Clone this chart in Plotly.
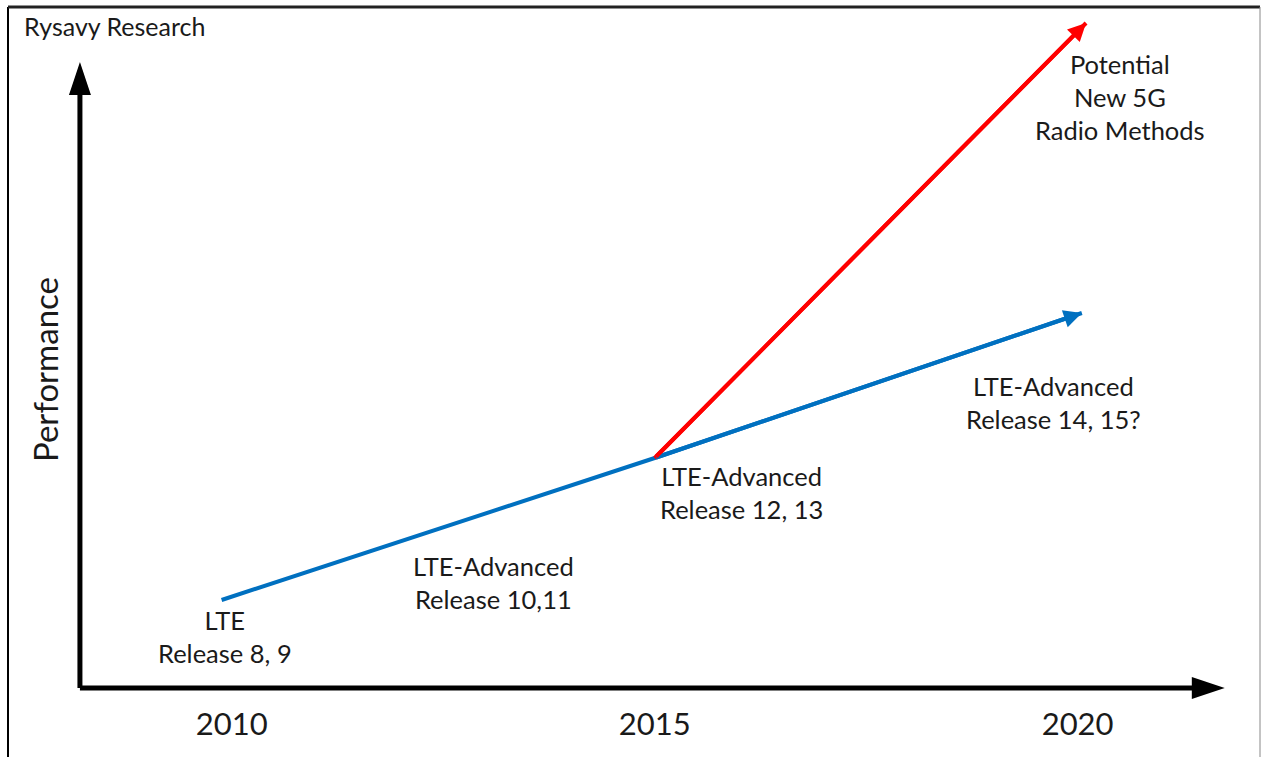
import plotly.graph_objects as go

# LTE evolution path (year, relative performance)
lte_years = [2009.88, 2015.0, 2020.05]
lte_perf = [8.8, 23.0, 37.5]

# potential 5G branch
g5_years = [2015.0, 2020.1]
g5_perf = [23.0, 66.5]

tick_years = [2010, 2015, 2020]
tick_text = ["2010", "2015", "2020"]

labels = [
    "LTE<br>Release 8, 9",
    "LTE-Advanced<br>Release 10,11",
    "LTE-Advanced<br>Release 12, 13",
    "LTE-Advanced<br>Release 14, 15?",
    "Potential<br>New 5G<br>Radio Methods",
]
label_x = [2009.92, 2013.09, 2016.03, 2019.71, 2020.50]
label_y = [5.2, 10.6, 19.6, 28.6, 59.1]

XR = [2007.26, 2022.18]
YR = [-6.9, 68.8]
FONT = "Lato, Calibri, sans-serif"
TXT = "#1a1a1a"
BLUE = "#0070C0"
RED = "#FF0000"

fig = go.Figure()

fig.add_trace(go.Scatter(x=lte_years, y=lte_perf, mode="lines",
                         line=dict(color=BLUE, width=4), hoverinfo="skip"))
fig.add_trace(go.Scatter(x=g5_years, y=g5_perf, mode="lines",
                         line=dict(color=RED, width=4), hoverinfo="skip"))

# arrow heads on the end of each series
for xs, ys, col in [(lte_years, lte_perf, BLUE), (g5_years, g5_perf, RED)]:
    fig.add_annotation(x=xs[-1], y=ys[-1], ax=xs[-2], ay=ys[-2],
                       xref="x", yref="y", axref="x", ayref="y",
                       showarrow=True, arrowhead=2, arrowsize=0.9,
                       arrowwidth=4, arrowcolor=col, text="")

for t, x, y in zip(labels, label_x, label_y):
    fig.add_annotation(x=x, y=y, text=t, showarrow=False,
                       font=dict(family=FONT, size=25.5, color=TXT),
                       xanchor="center", yanchor="middle")

# axis arrows
ax_x0 = 2008.205
y_top = 62.6
x_right = 2021.74
fig.add_shape(type="line", x0=ax_x0, x1=ax_x0, y0=0, y1=y_top - 2.5,
              line=dict(color="black", width=5))
fig.add_shape(type="line", x0=ax_x0, x1=x_right - 0.3, y0=0, y1=0,
              line=dict(color="black", width=5))
hw = 11 / 84.6
fig.add_shape(type="path", fillcolor="black", line=dict(width=0),
              path=f"M{ax_x0 - hw},{y_top - 3.3} L{ax_x0},{y_top} L{ax_x0 + hw},{y_top - 3.3} Z")
fig.add_shape(type="path", fillcolor="black", line=dict(width=0),
              path=f"M{x_right - 33 / 84.6},{1.1} L{x_right},0 L{x_right - 33 / 84.6},{-1.1} Z")

# frame
fig.add_shape(type="line", xref="paper", yref="paper", x0=8 / 1262, x1=8 / 1262,
              y0=0, y1=1 - 7 / 757, line=dict(color="black", width=2))
fig.add_shape(type="line", xref="paper", yref="paper", x0=8 / 1262, x1=1260 / 1262,
              y0=1 - 7 / 757, y1=1 - 7 / 757, line=dict(color="#222", width=3))
fig.add_shape(type="line", xref="paper", yref="paper", x0=1260 / 1262, x1=1260 / 1262,
              y0=0, y1=1 - 7 / 757, line=dict(color="#888", width=1))

fig.add_annotation(xref="paper", yref="paper", x=22 / 1262, y=1 - 26 / 757,
                   text="Rysavy Research", showarrow=False, xanchor="left", yanchor="middle",
                   font=dict(family=FONT, size=25, color=TXT))
fig.add_annotation(xref="paper", yref="y", x=45 / 1262, y=31.8, text="Performance",
                   textangle=-90, showarrow=False, xanchor="center", yanchor="middle",
                   font=dict(family=FONT, size=33, color=TXT))

fig.update_layout(
    width=1262, height=757,
    margin=dict(l=0, r=0, t=0, b=0),
    paper_bgcolor="white", plot_bgcolor="white",
    showlegend=False,
    xaxis=dict(range=XR, showgrid=False, zeroline=False, showline=False,
               tickvals=tick_years, ticktext=tick_text, ticks="",
               ticklabelposition="inside", ticklabelstandoff=13,
               tickfont=dict(family=FONT, size=31, color=TXT)),
    yaxis=dict(range=YR, showgrid=False, zeroline=False, showline=False,
               showticklabels=False),
)

fig.write_html("out.html", config={"displayModeBar": False},
               post_script="document.body.style.margin='0';")
